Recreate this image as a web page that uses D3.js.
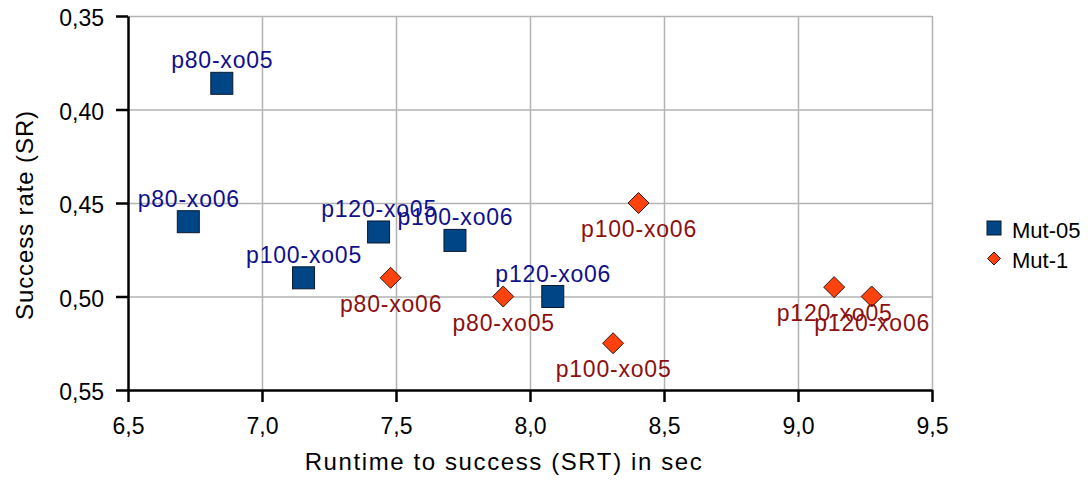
<!DOCTYPE html>
<html>
<head>
<meta charset="utf-8">
<script src="https://cdn.jsdelivr.net/npm/d3@7"></script>
<style>
  body { margin: 0; background: #fff; }
  text { font-family: "Liberation Sans", Arial, sans-serif; }
</style>
</head>
<body>
<div id="chart"></div>
<script>
// series: Mut-05 (squares)
var mut05_labels = ["p80-xo05", "p80-xo06", "p100-xo05", "p120-xo05", "p100-xo06", "p120-xo06"];
var mut05_srt = [6.85, 6.725, 7.155, 7.435, 7.72, 8.085];
var mut05_sr = [0.386, 0.460, 0.490, 0.4655, 0.470, 0.500];

// series: Mut-1 (diamonds)
var mut1_labels = ["p80-xo06", "p80-xo05", "p100-xo05", "p100-xo06", "p120-xo05", "p120-xo06"];
var mut1_srt = [7.48, 7.90, 8.31, 8.405, 9.135, 9.275];
var mut1_sr = [0.490, 0.500, 0.525, 0.450, 0.495, 0.500];

var series_names = ["Mut-05", "Mut-1"];
var x_ticks = [6.5, 7.0, 7.5, 8.0, 8.5, 9.0, 9.5];
var y_ticks = [0.35, 0.40, 0.45, 0.50, 0.55];

var W = 1088, H = 480;
var m_left = 128, m_right = 932, m_top = 16, m_bottom = 390;

var loc = d3.formatLocale({decimal: ",", thousands: ".", grouping: [3], currency: ["", ""]});
var fx = loc.format(".1f"), fy = loc.format(".2f");

var svg = d3.select("#chart").append("svg")
  .attr("width", W)
  .attr("height", H);

var x = d3.scaleLinear().domain([6.5, 9.5]).range([m_left, m_right]);
var y = d3.scaleLinear().domain([0.35, 0.55]).range([m_top, m_bottom]);

// grid
svg.append("g")
  .attr("transform", "translate(0," + m_bottom + ")")
  .call(d3.axisBottom(x).tickValues(x_ticks.slice(1)).tickSize(-(m_bottom - m_top)).tickFormat(""))
  .call(function(g){
    g.select(".domain").remove();
    g.selectAll("line").attr("stroke", "#b3b3b3").attr("stroke-width", 1.5);
  });
svg.append("g")
  .attr("transform", "translate(" + m_left + ",0)")
  .call(d3.axisLeft(y).tickValues(y_ticks.slice(0, -1)).tickSize(-(m_right - m_left)).tickFormat(""))
  .call(function(g){
    g.select(".domain").remove();
    g.selectAll("line").attr("stroke", "#b3b3b3").attr("stroke-width", 1.5);
  });

// axes
var xAxis = svg.append("g")
  .attr("transform", "translate(0," + m_bottom + ")")
  .call(d3.axisBottom(x).tickValues(x_ticks).tickSize(12).tickSizeOuter(0).tickPadding(15).tickFormat(fx));
var yAxis = svg.append("g")
  .attr("transform", "translate(" + m_left + ",0)")
  .call(d3.axisLeft(y).tickValues(y_ticks).tickSize(12).tickSizeOuter(0).tickPadding(12).tickFormat(fy));

[xAxis, yAxis].forEach(function(g){
  g.select(".domain").attr("stroke", "#000").attr("stroke-width", 2.5);
  g.selectAll(".tick line").attr("stroke", "#000").attr("stroke-width", 2.5);
  g.selectAll(".tick text")
    .style("font-family", "Liberation Sans, Arial, sans-serif")
    .style("font-size", "23px")
    .attr("fill", "#000");
});
yAxis.selectAll(".tick text").attr("dy", "0.43em");
xAxis.selectAll(".tick text").attr("dy", "0.72em");

// axis titles
svg.append("text")
  .attr("x", 504)
  .attr("y", 470)
  .attr("text-anchor", "middle")
  .style("font-size", "24px")
  .style("letter-spacing", "1.6px")
  .text("Runtime to success (SRT) in sec");

svg.append("text")
  .attr("transform", "translate(33,215) rotate(-90)")
  .attr("text-anchor", "middle")
  .style("font-size", "24px")
  .style("letter-spacing", "0.9px")
  .text("Success rate (SR)");

// Mut-05 squares
var sq = 22;
var mut05 = mut05_labels.map(function(l, i){ return {label: l, x: mut05_srt[i], y: mut05_sr[i]}; });
var mut1 = mut1_labels.map(function(l, i){ return {label: l, x: mut1_srt[i], y: mut1_sr[i]}; });

svg.append("g").selectAll("rect")
  .data(mut05).enter().append("rect")
  .attr("x", function(d){ return x(d.x) - sq / 2; })
  .attr("y", function(d){ return y(d.y) - sq / 2; })
  .attr("width", sq)
  .attr("height", sq)
  .attr("fill", "#004586")
  .attr("stroke", "#0a1a2e")
  .attr("stroke-width", 1);

// Mut-1 diamonds
var dm = 10.5;
svg.append("g").selectAll("path")
  .data(mut1).enter().append("path")
  .attr("d", function(d){
    var cx = x(d.x), cy = y(d.y);
    return "M" + cx + "," + (cy - dm) + "L" + (cx + dm) + "," + cy + "L" + cx + "," + (cy + dm) + "L" + (cx - dm) + "," + cy + "Z";
  })
  .attr("fill", "#ff420e")
  .attr("stroke", "#2b1a14")
  .attr("stroke-width", 1);

// labels
svg.append("g").selectAll("text")
  .data(mut05).enter().append("text")
  .attr("x", function(d){ return x(d.x) + 0.5; })
  .attr("y", function(d){ return y(d.y) - 15; })
  .attr("text-anchor", "middle")
  .style("font-size", "23px")
  .style("letter-spacing", "0.8px")
  .attr("fill", "#10108c")
  .text(function(d){ return d.label; });

svg.append("g").selectAll("text")
  .data(mut1).enter().append("text")
  .attr("x", function(d){ return x(d.x) + 0.5; })
  .attr("y", function(d){ return y(d.y) + 34; })
  .attr("text-anchor", "middle")
  .style("font-size", "23px")
  .style("letter-spacing", "0.8px")
  .attr("fill", "#8c1010")
  .text(function(d){ return d.label; });

// legend
var leg = svg.append("g");
leg.append("rect")
  .attr("x", 987).attr("y", 221).attr("width", 14).attr("height", 14)
  .attr("fill", "#004586").attr("stroke", "#0a1a2e").attr("stroke-width", 1);
leg.append("path")
  .attr("d", "M994,252L1000.5,258.5L994,265L987.5,258.5Z")
  .attr("fill", "#ff420e").attr("stroke", "#2b1a14").attr("stroke-width", 1);
leg.selectAll("text.lg")
  .data(series_names).enter().append("text")
  .attr("class", "lg")
  .attr("x", 1012)
  .attr("y", function(d, i){ return 238 + i * 30; })
  .style("font-size", "22px")
  .text(function(d){ return d; });
</script>
</body>
</html>
